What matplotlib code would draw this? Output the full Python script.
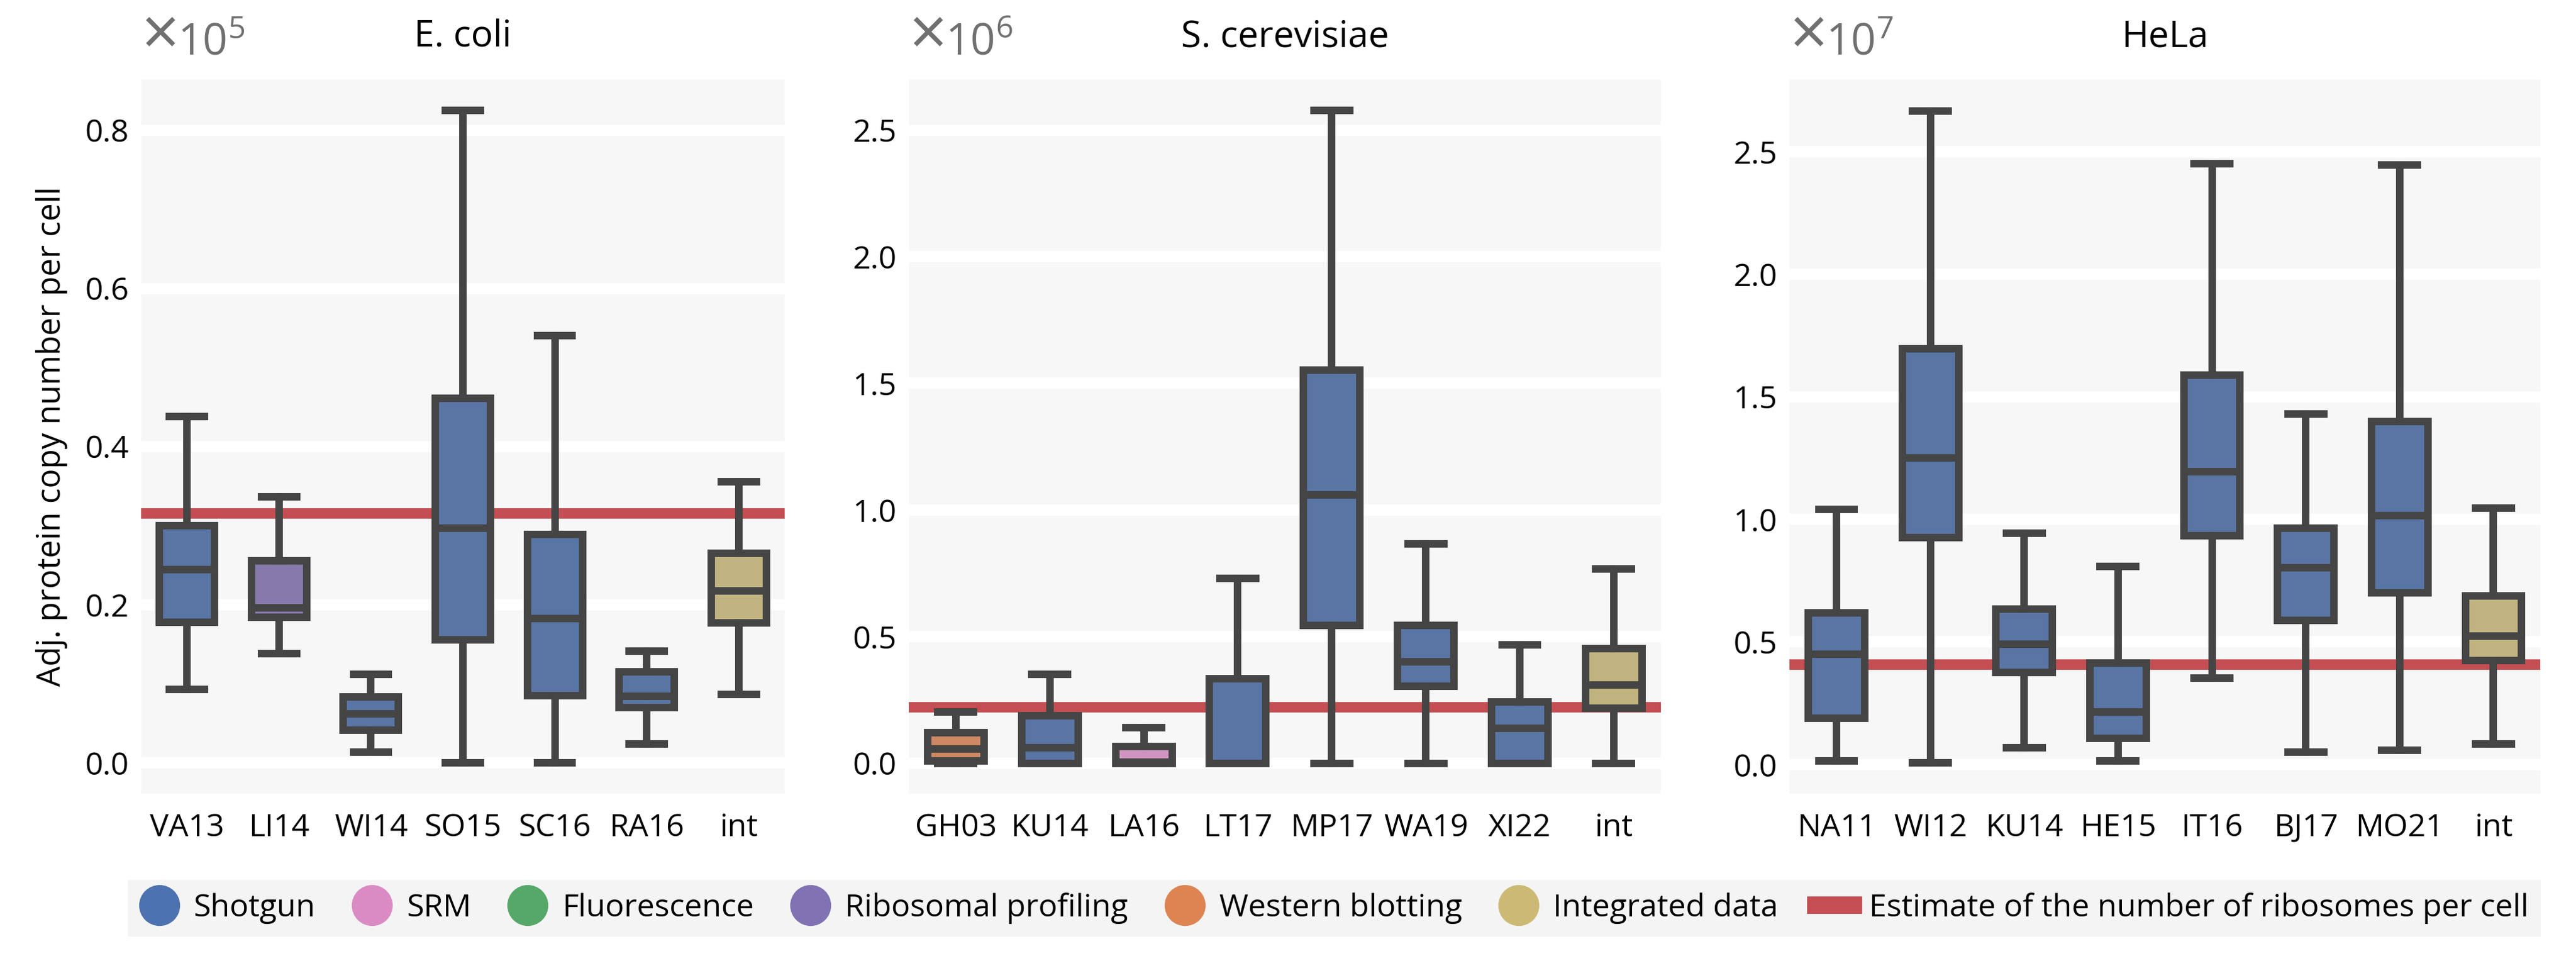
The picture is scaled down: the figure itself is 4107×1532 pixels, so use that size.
import matplotlib
matplotlib.use("Agg")
import matplotlib.pyplot as plt
from matplotlib.lines import Line2D
import seaborn as sns

# colours (seaborn "deep")
method_colors = {
    "Shotgun": "#4C72B0",
    "SRM": "#DA8BC3",
    "Fluorescence": "#55A868",
    "Ribosomal profiling": "#8172B3",
    "Western blotting": "#DD8452",
    "Integrated data": "#CCB974",
}
ribo_color = "#C44E52"
edge = "#454545"

# ---- E. coli (x1e5) ----
ecoli_labels = ["VA13", "LI14", "WI14", "SO15", "SC16", "RA16", "int"]
ecoli_methods = ["Shotgun", "Ribosomal profiling", "Shotgun", "Shotgun", "Shotgun", "Shotgun", "Integrated data"]
ecoli_whislo = [0.093, 0.138, 0.013, 0.0, 0.0, 0.024, 0.086]
ecoli_q1 = [0.178, 0.184, 0.041, 0.155, 0.085, 0.070, 0.177]
ecoli_med = [0.244, 0.196, 0.062, 0.297, 0.182, 0.084, 0.217]
ecoli_q3 = [0.300, 0.255, 0.083, 0.461, 0.289, 0.115, 0.265]
ecoli_whishi = [0.438, 0.336, 0.112, 0.825, 0.540, 0.141, 0.355]
ecoli_ribo = 0.316

# ---- S. cerevisiae (x1e6) ----
yeast_labels = ["GH03", "KU14", "LA16", "LT17", "MP17", "WA19", "XI22", "int"]
yeast_methods = ["Western blotting", "Shotgun", "SRM", "Shotgun", "Shotgun", "Shotgun", "Shotgun", "Integrated data"]
yeast_whislo = [0.0, 0.0, 0.0, 0.0, 0.0, 0.0, 0.0, 0.0]
yeast_q1 = [0.010, 0.0, 0.0, 0.0, 0.545, 0.303, 0.0, 0.218]
yeast_med = [0.056, 0.061, 0.005, 0.0, 1.059, 0.400, 0.138, 0.308]
yeast_q3 = [0.121, 0.187, 0.065, 0.334, 1.553, 0.545, 0.242, 0.453]
yeast_whishi = [0.201, 0.351, 0.140, 0.731, 2.578, 0.865, 0.468, 0.768]
yeast_ribo = 0.223

# ---- HeLa (x1e7) ----
hela_labels = ["NA11", "WI12", "KU14", "HE15", "IT16", "BJ17", "MO21", "int"]
hela_methods = ["Shotgun"] * 7 + ["Integrated data"]
hela_whislo = [0.015, 0.008, 0.070, 0.015, 0.353, 0.050, 0.058, 0.083]
hela_q1 = [0.190, 0.925, 0.375, 0.108, 0.933, 0.588, 0.700, 0.425]
hela_med = [0.450, 1.250, 0.490, 0.215, 1.195, 0.803, 1.015, 0.525]
hela_q3 = [0.620, 1.695, 0.633, 0.413, 1.588, 0.965, 1.400, 0.688]
hela_whishi = [1.040, 2.667, 0.945, 0.808, 2.450, 1.430, 2.445, 1.045]
hela_ribo = 0.408

panels = [
    ("E. coli", 5, ecoli_labels, ecoli_methods, ecoli_whislo, ecoli_q1, ecoli_med, ecoli_q3, ecoli_whishi, ecoli_ribo,
     [0.0, 0.2, 0.4, 0.6, 0.8], (-0.039, 0.864), [0.0548, 0.2498]),
    ("S. cerevisiae", 6, yeast_labels, yeast_methods, yeast_whislo, yeast_q1, yeast_med, yeast_q3, yeast_whishi, yeast_ribo,
     [0.0, 0.5, 1.0, 1.5, 2.0, 2.5], (-0.12, 2.70), [0.3528, 0.2919]),
    ("HeLa", 7, hela_labels, hela_methods, hela_whislo, hela_q1, hela_med, hela_q3, hela_whishi, hela_ribo,
     [0.0, 0.5, 1.0, 1.5, 2.0, 2.5], (-0.118, 2.794), [0.6947, 0.2915]),
]

plt.rcParams["font.family"] = ["Open Sans", "DejaVu Sans"]
plt.rcParams["mathtext.fontset"] = "custom"
plt.rcParams["mathtext.rm"] = "Open Sans"

fig = plt.figure(figsize=(41.07, 15.32), dpi=100)

for (title, expo, labels, methods, lo, q1, med, q3, hi, ribo, yticks, ylim, xpos) in panels:
    ax = fig.add_axes([xpos[0], 0.1743, xpos[1], 0.7428])
    ax.set_facecolor("#f7f7f7")
    for s in ax.spines.values():
        s.set_visible(False)
    ax.set_axisbelow(True)
    ax.yaxis.grid(True, color="white", linewidth=13)

    stats = []
    for i in range(len(labels)):
        stats.append(dict(whislo=lo[i], q1=q1[i], med=med[i], q3=q3[i], whishi=hi[i], label=labels[i]))

    ax.axhline(ribo, color=ribo_color, linewidth=12, zorder=1)
    bp = ax.bxp(stats, positions=range(len(labels)), widths=0.6, capwidths=0.38,
                showfliers=False, patch_artist=True,
                boxprops=dict(edgecolor=edge, linewidth=8.6),
                medianprops=dict(color=edge, linewidth=8.6),
                whiskerprops=dict(color=edge, linewidth=8.6),
                capprops=dict(color=edge, linewidth=8.6),
                zorder=2)
    for patch, m in zip(bp["boxes"], methods):
        patch.set_facecolor(sns.desaturate(method_colors[m], 0.75))

    ax.set_xlim(-0.5, len(labels) - 0.5)
    ax.set_ylim(*ylim)
    ax.set_yticks(yticks)
    ax.set_yticklabels([f"{t:.1f}" for t in yticks])
    ax.tick_params(axis="both", length=0, labelsize=36, pad=14)
    ax.tick_params(axis="x", pad=22)
    ax.set_title(title, fontsize=42, pad=38)

    # scale factor, big multiplication sign + power of ten
    ax.annotate("×", xy=(0.0, 1.02), xycoords="axes fraction", xytext=(0, -6),
                textcoords="offset points", ha="left", va="bottom", fontsize=76, color="#707070")
    ax.annotate("10$^{%d}$" % expo, xy=(0.0, 1.02), xycoords="axes fraction", xytext=(42, 0),
                textcoords="offset points", ha="left", va="bottom", fontsize=50, color="#707070")
    if expo == 5:
        ax.set_ylabel("Adj. protein copy number per cell", fontsize=37, labelpad=20)

handles = [Line2D([], [], marker="o", linestyle="none", markersize=46,
                  markerfacecolor=c, markeredgecolor=c) for c in method_colors.values()]
handles.append(Line2D([], [], color=ribo_color, linewidth=20))
names = list(method_colors.keys()) + ["Estimate of the number of ribosomes per cell"]
leg = fig.legend(handles, names, loc="center", bbox_to_anchor=(0.518, 0.055), ncol=7,
                 fontsize=36, frameon=True, facecolor="#f4f4f4", edgecolor="none",
                 framealpha=1, fancybox=False, handlelength=1.2, handletextpad=0.5,
                 columnspacing=1.2, borderpad=0.4)

fig.savefig("out.png", dpi=100)
